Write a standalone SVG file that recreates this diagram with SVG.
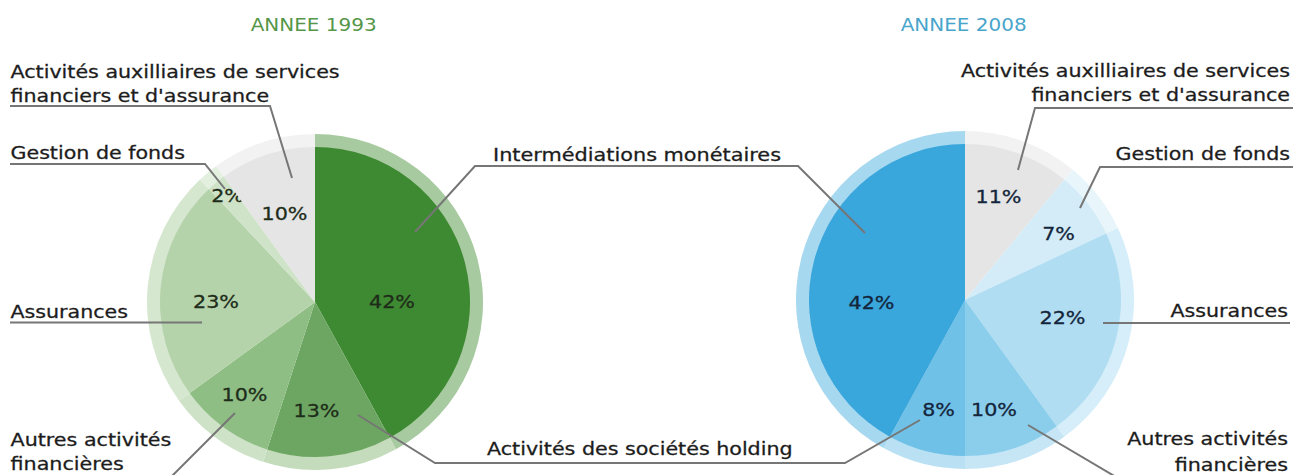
<svg xmlns="http://www.w3.org/2000/svg" width="1312" height="475" viewBox="0 0 1312 475">
<style>
.t{font-family:"DejaVu Sans",Verdana,sans-serif;font-size:18.5px;fill:#1c1c1c;stroke:#1c1c1c;stroke-width:0.3}
.pl{font-family:"DejaVu Sans",Verdana,sans-serif;font-size:18.5px;fill:#1e2d1a;stroke:#1e2d1a;stroke-width:0.3}
.pr{font-family:"DejaVu Sans",Verdana,sans-serif;font-size:18.5px;fill:#13253b;stroke:#13253b;stroke-width:0.3}
.ttl{font-family:"DejaVu Sans",Verdana,sans-serif;font-size:18px}
.lead{fill:none;stroke:#767676;stroke-width:2}
</style>
<rect width="1312" height="475" fill="#fff"/>
<text class="ttl" x="250.7" y="31" fill="#559649" textLength="126" lengthAdjust="spacingAndGlyphs">ANNEE 1993</text>
<text class="ttl" x="900.7" y="31" fill="#48a5cb" textLength="126" lengthAdjust="spacingAndGlyphs">ANNEE 2008</text>

<!-- 1993 pie -->
<g id="p1993-monetaires">
<path d="M315,302 L315,134 A168,168 0 0 1 395.94,449.22 Z" fill="#a8caa0"/>
<path d="M315,302 L315,147 A155,155 0 0 1 389.68,437.83 Z" fill="#3e8a32"/>
<text class="pl" x="369" y="308" textLength="46" lengthAdjust="spacingAndGlyphs">42%</text>
</g>
<g id="p1993-holding">
<path d="M315,302 L395.94,449.22 A168,168 0 0 1 263.09,461.78 Z" fill="#c4dcbb"/>
<path d="M315,302 L389.68,437.83 A155,155 0 0 1 267.10,449.42 Z" fill="#6da662"/>
<text class="pl" x="293.5" y="417" textLength="46" lengthAdjust="spacingAndGlyphs">13%</text>
</g>
<g id="p1993-autres">
<path d="M315,302 L263.09,461.78 A168,168 0 0 1 179.09,400.75 Z" fill="#cde2c6"/>
<path d="M315,302 L267.10,449.42 A155,155 0 0 1 189.60,393.11 Z" fill="#8fbe84"/>
<text class="pl" x="221.5" y="401" textLength="46" lengthAdjust="spacingAndGlyphs">10%</text>
</g>
<g id="p1993-assurances">
<path d="M315,302 L179.09,400.75 A168,168 0 0 1 200.00,179.53 Z" fill="#d6e7d0"/>
<path d="M315,302 L189.60,393.11 A155,155 0 0 1 208.90,189.00 Z" fill="#b5d3aa"/>
<text class="pl" x="193" y="308" textLength="46" lengthAdjust="spacingAndGlyphs">23%</text>
</g>
<g id="p1993-gestion">
<path d="M315,302 L200.00,179.53 A168,168 0 0 1 216.25,166.09 Z" fill="#e3efdf"/>
<path d="M315,302 L208.90,189.00 A155,155 0 0 1 223.89,176.60 Z" fill="#cfe3c8"/>
<text class="pl" x="211.2" y="202" textLength="32.7" lengthAdjust="spacingAndGlyphs">2%</text>
</g>
<g id="p1993-auxiliaires">
<path d="M315,302 L216.25,166.09 A168,168 0 0 1 315,134 Z" fill="#f2f2f2"/>
<path d="M315,302 L223.89,176.60 A155,155 0 0 1 315,147 Z" fill="#e5e5e5"/>
<text class="pl" x="261.5" y="220" textLength="46" lengthAdjust="spacingAndGlyphs">10%</text>
</g>

<!-- 2008 pie -->
<g id="p2008-auxiliaires">
<path d="M965,300 L965,131 A169,169 0 0 1 1072.72,169.79 Z" fill="#f2f2f2"/>
<path d="M965,300 L965,144 A156,156 0 0 1 1064.43,179.80 Z" fill="#e5e5e5"/>
<text class="pr" x="975.5" y="203" textLength="46" lengthAdjust="spacingAndGlyphs">11%</text>
</g>
<g id="p2008-gestion">
<path d="M965,300 L1072.72,169.79 A169,169 0 0 1 1117.91,228.04 Z" fill="#e8f5fb"/>
<path d="M965,300 L1064.43,179.80 A156,156 0 0 1 1106.15,233.58 Z" fill="#d4ecf8"/>
<text class="pr" x="1042.2" y="240" textLength="32.7" lengthAdjust="spacingAndGlyphs">7%</text>
</g>
<g id="p2008-assurances">
<path d="M965,300 L1117.91,228.04 A169,169 0 0 1 1064.34,436.72 Z" fill="#d5eef9"/>
<path d="M965,300 L1106.15,233.58 A156,156 0 0 1 1056.70,426.20 Z" fill="#b1ddf2"/>
<text class="pr" x="1039.5" y="324" textLength="46" lengthAdjust="spacingAndGlyphs">22%</text>
</g>
<g id="p2008-autres">
<path d="M965,300 L1064.34,436.72 A169,169 0 0 1 965,469 Z" fill="#c6e6f5"/>
<path d="M965,300 L1056.70,426.20 A156,156 0 0 1 965,456 Z" fill="#8bceec"/>
<text class="pr" x="971" y="416" textLength="46" lengthAdjust="spacingAndGlyphs">10%</text>
</g>
<g id="p2008-holding">
<path d="M965,300 L965,469 A169,169 0 0 1 883.58,448.09 Z" fill="#b9e0f3"/>
<path d="M965,300 L965,456 A156,156 0 0 1 889.84,436.70 Z" fill="#70c1e7"/>
<text class="pr" x="922.2" y="416" textLength="32.7" lengthAdjust="spacingAndGlyphs">8%</text>
</g>
<g id="p2008-monetaires">
<path d="M965,300 L883.58,448.09 A169,169 0 0 1 965,131 Z" fill="#a6d8f0"/>
<path d="M965,300 L889.84,436.70 A156,156 0 0 1 965,144 Z" fill="#39a6dc"/>
<text class="pr" x="848.5" y="309" textLength="46" lengthAdjust="spacingAndGlyphs">42%</text>
</g>

<!-- connectors -->
<g id="connectors">
<polyline class="lead" points="10,106 270,106 292,178"/>
<polyline class="lead" points="10,164 205,164 225,189"/>
<polyline class="lead" points="10,322.5 202,322.5"/>
<polyline class="lead" points="10,477 171,477 235,413"/>
<polyline class="lead" points="415,232 475,166 798,166 865,233"/>
<polyline class="lead" points="358,415 435,463 845,463 920,420"/>
<polyline class="lead" points="1293,108 1035,108 1018,170"/>
<polyline class="lead" points="1293,167 1100,167 1080,208"/>
<polyline class="lead" points="1290,323 1103,323"/>
<polyline class="lead" points="1028,425 1116,477 1291,477"/>
</g>

<!-- left labels -->
<g id="label1993-auxiliaires">
<text class="t" x="10.5" y="77.5" textLength="329.1" lengthAdjust="spacingAndGlyphs">Activités auxilliaires de services</text>
<text class="t" x="10.5" y="101.5" textLength="258.6" lengthAdjust="spacingAndGlyphs">financiers et d'assurance</text>
</g>
<g id="label1993-gestion">
<text class="t" x="10.5" y="159" textLength="174.4" lengthAdjust="spacingAndGlyphs">Gestion de fonds</text>
</g>
<g id="label1993-assurances">
<text class="t" x="10.5" y="318" textLength="117.5" lengthAdjust="spacingAndGlyphs">Assurances</text>
</g>
<g id="label1993-autres">
<text class="t" x="10.5" y="445.5" textLength="160.8" lengthAdjust="spacingAndGlyphs">Autres activités</text>
<text class="t" x="10.5" y="469.5" textLength="113.3" lengthAdjust="spacingAndGlyphs">financières</text>
</g>

<!-- middle labels -->
<g id="label-monetaires">
<text class="t" x="493" y="161" textLength="288" lengthAdjust="spacingAndGlyphs">Intermédiations monétaires</text>
</g>
<g id="label-holding">
<text class="t" x="487" y="455" textLength="305.6" lengthAdjust="spacingAndGlyphs">Activités des sociétés holding</text>
</g>

<!-- right labels -->
<g id="label2008-auxiliaires">
<text class="t" x="960.9" y="77" textLength="329.1" lengthAdjust="spacingAndGlyphs">Activités auxilliaires de services</text>
<text class="t" x="1031.4" y="100.5" textLength="258.6" lengthAdjust="spacingAndGlyphs">financiers et d'assurance</text>
</g>
<g id="label2008-gestion">
<text class="t" x="1115.6" y="160" textLength="174.4" lengthAdjust="spacingAndGlyphs">Gestion de fonds</text>
</g>
<g id="label2008-assurances">
<text class="t" x="1170.5" y="317" textLength="117.5" lengthAdjust="spacingAndGlyphs">Assurances</text>
</g>
<g id="label2008-autres">
<text class="t" x="1127.2" y="445" textLength="160.8" lengthAdjust="spacingAndGlyphs">Autres activités</text>
<text class="t" x="1174.7" y="470.5" textLength="113.3" lengthAdjust="spacingAndGlyphs">financières</text>
</g>
</svg>
